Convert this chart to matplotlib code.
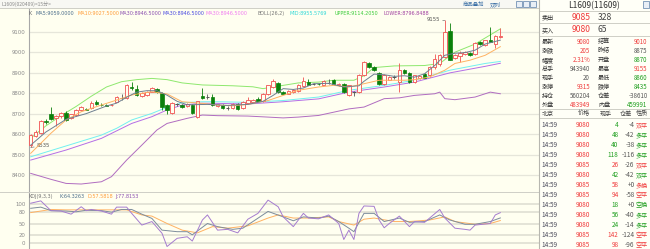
import matplotlib

matplotlib.use("Agg")
import matplotlib.pyplot as plt
from matplotlib.patches import Rectangle
from matplotlib.lines import Line2D

W, H = 650, 249
CJK = ["Noto Sans CJK SC", "DejaVu Sans"]
BG = "#fffff0"
UP = "#f05050"
DOWN = "#0b800b"
GRID = "#e6e6da"

# ---- 15 minute candles ----
opens = [
    8545, 8590, 8605, 8665, 8697, 8677, 8686, 8702, 8678, 8692,
    8718, 8724, 8726, 8755, 8744, 8740, 8740, 8758, 8778, 8775,
    8832, 8820, 8788, 8792, 8808, 8822, 8800, 8740, 8705, 8745,
    8740, 8735, 8742, 8685, 8788, 8780, 8782, 8735, 8740, 8728,
    8725, 8746, 8726, 8750, 8758, 8770, 8760, 8797, 8830, 8851,
    8805, 8797, 8805, 8810, 8835, 8854, 8846, 8847, 8841, 8852,
    8863, 8840, 8846, 8789, 8805, 8805, 8887, 8945, 8928, 8899,
    8846, 8866, 8880, 8854, 8912, 8899, 8854, 8875, 8895, 8887,
    8928, 8940, 8978, 9105, 8970, 8980, 8990, 8997, 8990, 9049,
    9034, 9060, 9040, 9073,
]
highs = [
    8600, 8620, 8668, 8672, 8730, 8695, 8710, 8712, 8700, 8722,
    8738, 8728, 8760, 8766, 8750, 8745, 8748, 8788, 8795, 8843,
    8856, 8840, 8805, 8812, 8828, 8826, 8805, 8748, 8755, 8752,
    8745, 8750, 8745, 8762, 8823, 8795, 8797, 8748, 8745, 8735,
    8750, 8750, 8762, 8782, 8772, 8782, 8800, 8840, 8871, 8856,
    8810, 8815, 8820, 8845, 8879, 8870, 8852, 8850, 8862, 8870,
    8868, 8850, 8850, 8842, 8810, 8895, 8958, 8950, 8932, 8905,
    8892, 8882, 8890, 8945, 8918, 8905, 8890, 8885, 8900, 8935,
    8990, 8990, 9155, 9141, 8990, 9005, 9005, 9003, 9050, 9055,
    9062, 9125, 9082, 9117,
]
lows = [
    8535, 8585, 8600, 8650, 8670, 8640, 8680, 8662, 8672, 8688,
    8715, 8716, 8722, 8740, 8738, 8735, 8736, 8755, 8765, 8770,
    8815, 8788, 8782, 8788, 8805, 8800, 8720, 8697, 8700, 8735,
    8728, 8732, 8698, 8680, 8770, 8770, 8738, 8730, 8722, 8720,
    8722, 8720, 8724, 8748, 8755, 8760, 8755, 8792, 8826, 8800,
    8795, 8794, 8800, 8806, 8832, 8838, 8840, 8842, 8838, 8845,
    8843, 8836, 8800, 8785, 8785, 8800, 8882, 8925, 8910, 8840,
    8840, 8862, 8870, 8805, 8895, 8850, 8850, 8870, 8872, 8880,
    8920, 8935, 8970, 8960, 8965, 8950, 8985, 8982, 8985, 9035,
    9030, 9050, 9020, 9068,
]
closes = [
    8595, 8612, 8664, 8657, 8676, 8690, 8702, 8670, 8697, 8718,
    8732, 8720, 8754, 8745, 8742, 8738, 8742, 8783, 8778, 8838,
    8825, 8792, 8800, 8808, 8824, 8805, 8732, 8718, 8750, 8745,
    8732, 8745, 8702, 8760, 8775, 8780, 8742, 8745, 8726, 8728,
    8745, 8723, 8758, 8766, 8768, 8762, 8797, 8838, 8858, 8805,
    8797, 8810, 8817, 8841, 8858, 8841, 8846, 8845, 8858, 8852,
    8846, 8846, 8805, 8838, 8805, 8887, 8953, 8928, 8912, 8843,
    8887, 8879, 8880, 8912, 8899, 8854, 8887, 8882, 8876, 8928,
    8965, 8985, 9100, 8962, 8985, 8997, 9000, 8985, 9046, 9040,
    9059, 9050, 9079, 9080,
]

# ---- indicator lines, sampled at candle indices ----
ma5_idx = [0, 3, 7, 11, 15, 17, 19, 21, 23, 25, 27, 29, 31, 35, 39, 43, 46, 48, 50, 52,
           54, 56, 59, 62, 65, 66, 68, 70, 72, 74, 76, 78, 80, 82, 84, 86, 88, 90, 93]
ma5_val = [8546, 8610, 8672, 8700, 8737, 8751, 8780, 8805, 8812, 8812, 8790, 8760, 8743,
           8745, 8740, 8745, 8760, 8789, 8822, 8818, 8825, 8846, 8848, 8830, 8836, 8858,
           8893, 8890, 8882, 8885, 8878, 8895, 8935, 8985, 8995, 8998, 9010, 9040, 9059]
ma10_idx = [0, 4, 7, 10, 14, 17, 20, 24, 27, 30, 34, 37, 40, 43, 47, 50, 53, 57, 60, 63,
            66, 69, 71, 74, 76, 79, 82, 84, 87, 90, 93]
ma10_val = [8506, 8604, 8669, 8709, 8742, 8766, 8791, 8807, 8796, 8758, 8750, 8742, 8738,
            8745, 8764, 8789, 8814, 8830, 8838, 8830, 8846, 8863, 8863, 8863, 8866, 8879,
            8912, 8945, 8961, 8985, 9027]
mid_idx = [0, 7, 14, 17, 20, 24, 27, 30, 34, 37, 43, 50, 57, 63, 70, 76, 83, 90, 93]
mid_val = [8489, 8542, 8595, 8628, 8669, 8701, 8731, 8753, 8758, 8758, 8755, 8764, 8781,
           8814, 8838, 8863, 8912, 8945, 8955]
ma30_idx = [0, 7, 14, 20, 24, 27, 30, 34, 37, 43, 50, 57, 63, 70, 76, 83, 90, 93]
ma30_val = [8473, 8522, 8579, 8652, 8685, 8718, 8742, 8751, 8750, 8747, 8758, 8772, 8805,
            8830, 8854, 8899, 8931, 8946]
upper_idx = [0, 3, 6, 9, 12, 15, 18, 21, 24, 27, 30, 34, 40, 44, 46, 50, 53, 57, 60, 64,
             66, 68, 72, 78, 81, 84, 88, 93]
upper_val = [8580, 8640, 8690, 8735, 8785, 8830, 8856, 8866, 8872, 8866, 8850, 8840, 8836,
             8831, 8822, 8838, 8850, 8854, 8863, 8863, 8885, 8925, 8933, 8935, 8945, 9000,
             9040, 9114]
lower_idx = [0, 4, 7, 10, 14, 16, 19, 22, 25, 27, 31, 34, 37, 43, 47, 50, 53, 57, 60, 63,
             66, 70, 73, 76, 80, 81, 82, 84, 88, 91, 93]
lower_val = [8408, 8379, 8359, 8356, 8367, 8392, 8473, 8546, 8620, 8652, 8677, 8693, 8690,
             8688, 8683, 8679, 8683, 8691, 8707, 8723, 8732, 8773, 8777, 8789, 8797, 8805,
             8773, 8768, 8781, 8805, 8797]

# ---- KDJ(9,3,3) ----
k_idx = [0, 2, 4, 7, 9, 11, 14, 16, 18, 20, 22, 24, 26, 29, 31, 32, 35, 37, 40, 42, 44,
         47, 50, 52, 54, 57, 59, 61, 63, 64, 66, 68, 70, 73, 75, 78, 81, 83, 86, 88, 91, 93]
k_val = [89, 92, 83, 82, 80, 84, 83, 79, 86, 86, 74, 63, 33, 29, 29, 21, 50, 42, 35, 38, 55,
         81, 67, 57, 67, 64, 69, 55, 38, 29, 76, 76, 55, 64, 53, 55, 72, 59, 48, 48, 55, 64.3]
d_idx = [0, 4, 7, 14, 19, 22, 24, 27, 30, 33, 36, 39, 43, 47, 49, 52, 55, 59, 61, 64, 66,
         68, 72, 75, 79, 82, 84, 88, 91, 93]
d_val = [78, 86, 85, 85, 85, 72, 69, 50, 33, 26, 42, 38, 44, 64, 72, 64, 64, 67, 55, 46, 61,
         64, 55, 55, 59, 67, 55, 48, 50, 57.6]
j_idx = [0, 2, 4, 6, 8, 10, 11, 12, 14, 16, 17, 19, 20, 22, 24, 26, 27, 29, 31, 32, 34, 35,
         37, 39, 41, 43, 45, 47, 49, 50, 52, 54, 55, 57, 59, 61, 62, 63, 64, 65, 66, 68, 69,
         70, 71, 73, 75, 76, 78, 79, 81, 82, 84, 86, 87, 88, 91, 92, 93]
j_val = [102, 108, 83, 82, 74, 93, 83, 86, 82, 74, 92, 92, 76, 46, 55, 25, -9, 12, 16, 5, 59,
         72, 33, 35, 26, 61, 76, 110, 93, 67, 42, 76, 64, 62, 72, 50, 9, 33, 9, 76, 95, 94,
         59, 39, 50, 69, 42, 55, 53, 64, 86, 64, 38, 35, 33, 46, 50, 72, 77.8]

ma_legend = [("K", "#666666", 29), ("MA5:9059.0000", "#4d6f8c", 36),
             ("MA10:9027.5000", "#ff9d3a", 77), ("MA30:8946.5000", "#8a4fb0", 120),
             ("MA30:8946.5000", "#4a4ae0", 163), ("MA30:8946.5000", "#f07cf0", 206),
             ("BOLL(26,2)", "#777777", 258), ("MID:8955.5769", "#30d8d8", 290),
             ("UPPER:9114.2050", "#3ccc3c", 335), ("LOWER:8796.8488", "#a040a0", 383)]
kdj_legend = [("KDJ(9,3,3)", "#777777", 29), ("K:64.3263", "#4d6f8c", 59),
              ("D:57.5818", "#ff9d3a", 87), ("J:77.8153", "#8a4fb0", 115)]

# right hand quote panel
quote_left = ["最新", "涨跌", "幅度", "总手", "现手", "涨停", "持仓", "外盘"]
quote_left_val = ["9080", "205", "2.31%", "943940", "20", "9315", "560204", "483949"]
quote_left_col = ["r", "r", "r", "g0", "g0", "r", "g0", "r"]
quote_right = ["结算", "昨结", "开盘", "最高", "最低", "跌停", "仓差", "内盘"]
quote_right_val = ["9010", "8875", "8870", "9155", "8860", "8435", "-38610", "459991"]
quote_right_col = ["r", "g0", "g", "r", "g", "g", "g0", "g"]

tick_time = ["14:59"] * 13
tick_price = [9080, 9080, 9080, 9080, 9085, 9080, 9085, 9085, 9080, 9080, 9080, 9085, 9085]
tick_vol = [4, 48, 40, 118, 26, 42, 58, 94, 18, 56, 24, 142, 98]
tick_oi = ["-4", "-42", "-38", "-116", "-26", "-42", "+0", "-58", "+0", "-40", "-14", "-124", "-96"]
tick_kind = ["双平", "多平", "多平", "多平", "双平", "双平", "多换", "空平", "空换", "多平", "多平", "空平", "空平"]
tick_col = ["g", "g", "g", "g", "r", "g", "r", "r", "g", "g", "g", "r", "r"]
tick_kind_col = ["r", "g", "g", "g", "r", "g", "r", "r", "g", "g", "g", "r", "r"]

COL = {"r": "#f03c3c", "g": "#1e9e1e", "g0": "#555555"}


def fx(px):
    return px / W


def fy(py):
    return 1 - py / H


fig = plt.figure(figsize=(W / 100, H / 100), dpi=100, facecolor=BG)

# panels / frames
fig.patches.append(Rectangle((0, fy(8)), fx(539), 8 / H, transform=fig.transFigure,
                             facecolor="#f8f8f3", edgecolor="none", zorder=0))
fig.patches.append(Rectangle((fx(539), 0), fx(111), 1, transform=fig.transFigure,
                             facecolor="#fffff7", edgecolor="none", zorder=0))
for y0, x0, x1 in [(8, 0, 539), (192, 0, 539), (11, 539, 650), (23.5, 539, 650),
                   (36, 539, 650), (109.5, 539, 650), (118.5, 539, 650)]:
    fig.lines.append(Line2D([fx(x0), fx(x1)], [fy(y0), fy(y0)], transform=fig.transFigure,
                            color="#cfcfc6", lw=0.7))
fig.lines.append(Line2D([fx(539), fx(539)], [0, 1], transform=fig.transFigure,
                        color="#b8b8b0", lw=0.8))

xlim = ((29 - 30.7) / 5.05, (539 - 30.7) / 5.05)

# ---- main price panel ----
ax = fig.add_axes([fx(29), fy(192), fx(510), (192 - 8) / H])
ax.set_facecolor(BG)
ax.set_xlim(*xlim)
ax.set_ylim(8317, 9216)
ax.set_yticks(range(8400, 9101, 100))
ax.grid(axis="y", color=GRID, lw=0.9)
ax.set_axisbelow(True)

for i, (o, h, l, c) in enumerate(zip(opens, highs, lows, closes)):
    if c > o:
        ax.vlines(i, c, h, color=UP, lw=0.6, zorder=3)
        ax.vlines(i, l, o, color=UP, lw=0.6, zorder=3)
        ax.bar(i, c - o, bottom=o, width=0.68, facecolor=BG, edgecolor=UP, lw=0.6, zorder=3)
    elif c < o:
        ax.vlines(i, l, h, color=DOWN, lw=0.6, zorder=3)
        ax.bar(i, o - c, bottom=c, width=0.68, facecolor=DOWN, edgecolor=DOWN, lw=0.5, zorder=3)
    else:
        ax.vlines(i, l, h, color="#555555", lw=0.6, zorder=3)
        ax.hlines(c, i - 0.36, i + 0.36, color="#555555", lw=0.7, zorder=3)

ax.plot(lower_idx, lower_val, color="#b06cc0", lw=0.7, zorder=2)
ax.plot(upper_idx, upper_val, color="#8ee86e", lw=0.7, zorder=2)
ax.plot(ma30_idx, ma30_val, color="#b46ee6", lw=0.7, zorder=2)
ax.plot(mid_idx, mid_val, color="#72f0f0", lw=0.7, zorder=2)
ax.plot(ma10_idx, ma10_val, color="#ffb262", lw=0.7, zorder=4)
ax.plot(ma5_idx, ma5_val, color="#6e7f90", lw=0.7, zorder=4)

imax = highs.index(max(highs))
imin = lows.index(min(lows))
ax.annotate(f"{max(highs)}", xy=(imax, max(highs)), xytext=(-3.5, 0.5), textcoords="offset points",
            ha="right", va="center", fontsize=3.8, color="#555555",
            arrowprops=dict(arrowstyle="-", color="#777777", lw=0.5, shrinkA=0, shrinkB=0))
ax.annotate(f"{min(lows)}", xy=(imin, min(lows)), xytext=(4.5, 1), textcoords="offset points",
            ha="left", va="center", fontsize=3.8, color="#555555",
            arrowprops=dict(arrowstyle="-", color="#777777", lw=0.5, shrinkA=0, shrinkB=0))

ax.tick_params(axis="y", labelsize=3.9, colors="#8a8a8a", length=0, pad=2.5)
ax.tick_params(axis="x", bottom=False, labelbottom=False)
for s in ["top", "right", "bottom"]:
    ax.spines[s].set_visible(False)
ax.spines["left"].set_color("#a8a8a8")
ax.spines["left"].set_linewidth(0.8)

# ---- KDJ panel ----
kx = fig.add_axes([fx(29), 0, fx(510), (249 - 192) / H])
kx.set_facecolor(BG)
kx.set_xlim(*xlim)
kx.set_ylim(-15.4, 130.8)
kx.set_yticks([0, 20, 50, 80, 100])
kx.grid(axis="y", color="#dcdcd0", lw=1.1)
kx.set_axisbelow(True)
kx.plot(d_idx, d_val, color="#ffb262", lw=0.7)
kx.plot(k_idx, k_val, color="#7c8c9c", lw=0.7)
kx.plot(j_idx, j_val, color="#a57ccf", lw=0.7)
kx.tick_params(axis="y", labelsize=3.9, colors="#8a8a8a", length=0, pad=2.5)
kx.tick_params(axis="x", bottom=False, labelbottom=False)
for s in ["top", "right", "bottom"]:
    kx.spines[s].set_visible(False)
kx.spines["left"].set_color("#a8a8a8")
kx.spines["left"].set_linewidth(0.8)

# ---- legends ----
for txt, col, x0 in ma_legend:
    fig.text(fx(x0), fy(13.3), txt, color=col, fontsize=3.5, ha="left", va="center")
for txt, col, x0 in kdj_legend:
    fig.text(fx(x0), fy(196.7), txt, color=col, fontsize=3.5, ha="left", va="center")

# ---- top bar ----
fig.text(fx(1), fy(4), "L1609(020409)<15分>", color="#8a8a8a", fontsize=3.6,
         family=CJK, ha="left", va="center")
fig.text(fx(463), fy(4), "商品叠加", color="#3a6ea5", fontsize=3.9, family=CJK,
         ha="left", va="center")
fig.text(fx(490), fy(4), "双列", color="#3a6ea5", fontsize=3.9, family=CJK,
         ha="left", va="center")
for bx in [516, 523, 530]:
    fig.patches.append(Rectangle((fx(bx), fy(7.5)), fx(6), 6 / H, transform=fig.transFigure,
                                 facecolor="#e8eef6", edgecolor="#5b7fa8", lw=0.5))
fig.patches.append(Rectangle((fx(643), fy(8)), fx(6), 6.5 / H, transform=fig.transFigure,
                             facecolor="#e8eef6", edgecolor="#5b7fa8", lw=0.5))

# ---- quote panel ----
fig.text(fx(594), fy(5.5), "L1609(11609)", color="#333333", fontsize=6, family=CJK,
         ha="center", va="center")
for label, price, qty, y0 in [("卖出", "9085", "328", 17.5), ("买入", "9080", "65", 30)]:
    fig.text(fx(541.5), fy(y0), label, color="#333333", fontsize=4.4, family=CJK, ha="left", va="center")
    fig.text(fx(590.5), fy(y0), price, color=COL["r"], fontsize=6.2, family=CJK, ha="right", va="center")
    fig.text(fx(597.5), fy(y0), qty, color="#444444", fontsize=6.2, family=CJK, ha="left", va="center")

for i in range(len(quote_left)):
    y0 = 41.6 + 9.1 * i
    fig.text(fx(541.5), fy(y0), quote_left[i], color="#333333", fontsize=4.4, family=CJK, ha="left", va="center")
    fig.text(fx(590), fy(y0), quote_left_val[i], color=COL[quote_left_col[i]], fontsize=4.4,
             family=CJK, ha="right", va="center")
    fig.text(fx(598), fy(y0), quote_right[i], color="#333333", fontsize=4.4, family=CJK, ha="left", va="center")
    fig.text(fx(647.5), fy(y0), quote_right_val[i], color=COL[quote_right_col[i]], fontsize=4.4,
             family=CJK, ha="right", va="center")

for txt, x0, ha in [("北京", 541.5, "left"), ("价格", 590, "right"), ("现手", 612, "right"),
                    ("仓差", 632, "right"), ("性质", 648, "right")]:
    fig.text(fx(x0), fy(113.5), txt, color="#444444", fontsize=4.4, family=CJK, ha=ha, va="center")

for i in range(len(tick_time)):
    y0 = 125 + 10 * i
    fig.text(fx(541.5), fy(y0), tick_time[i], color="#4a4a5a", fontsize=4.6, family=CJK, ha="left", va="center")
    fig.text(fx(590), fy(y0), str(tick_price[i]), color=COL["r"], fontsize=4.6, family=CJK,
             ha="right", va="center")
    fig.text(fx(618.5), fy(y0), str(tick_vol[i]), color=COL[tick_col[i]], fontsize=4.6, family=CJK,
             ha="right", va="center")
    fig.text(fx(634.5), fy(y0), tick_oi[i], color="#555555", fontsize=4.6, family=CJK,
             ha="right", va="center")
    fig.text(fx(635.5), fy(y0), tick_kind[i], color=COL[tick_kind_col[i]], fontsize=4.4, family=CJK,
             ha="left", va="center")

fig.savefig("out.png", dpi=100, facecolor=BG)
plt.close(fig)
